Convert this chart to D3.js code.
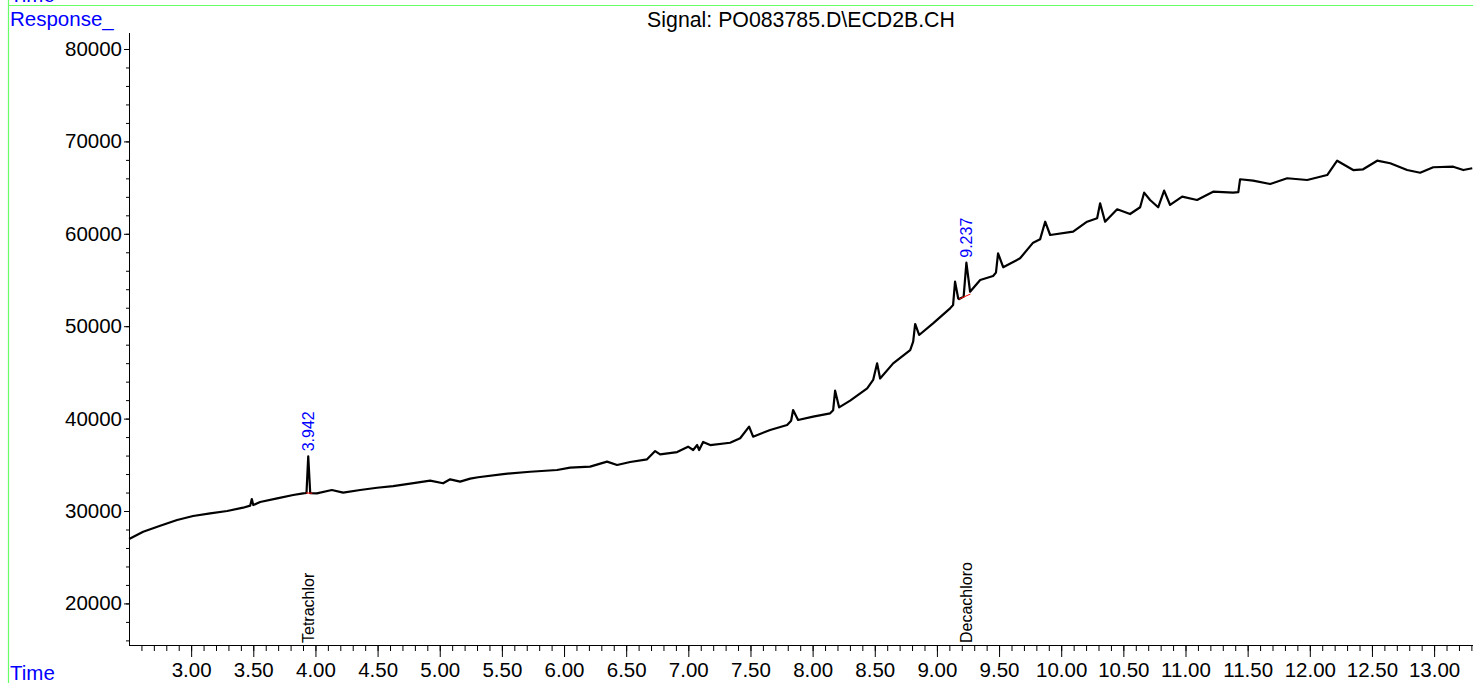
<!DOCTYPE html>
<html>
<head>
<meta charset="utf-8">
<script src="https://cdn.jsdelivr.net/npm/d3@7"></script>
<style>
  body { margin: 0; background: #fff; }
  svg { display: block; font-family: "Liberation Sans", Arial, sans-serif; }
</style>
</head>
<body>
<div id="chart"></div>
<script>
// Chromatogram readings (retention time in min, response)
var times = [
  2.501, 2.614, 2.751, 2.887, 3.016, 3.153, 3.290, 3.418, 3.475, 3.488,
  3.500, 3.555, 3.692, 3.821, 3.901, 3.928, 3.942, 3.958, 4.011, 4.132,
  4.223, 4.360, 4.496, 4.625, 4.762, 4.923, 5.027, 5.084, 5.164, 5.245,
  5.309, 5.510, 5.727, 5.944, 6.049, 6.210, 6.346, 6.427, 6.532, 6.668,
  6.733, 6.773, 6.910, 6.998, 7.039, 7.071, 7.087, 7.119, 7.176, 7.336,
  7.417, 7.489, 7.521, 7.658, 7.795, 7.827, 7.843, 7.883, 8.004, 8.141,
  8.165, 8.181, 8.213, 8.302, 8.439, 8.487, 8.519, 8.543, 8.648, 8.785,
  8.809, 8.825, 8.857, 8.969, 9.106, 9.130, 9.146, 9.171, 9.179, 9.215,
  9.237, 9.267, 9.348, 9.452, 9.475, 9.492, 9.533, 9.669, 9.774, 9.830,
  9.871, 9.911, 10.096, 10.208, 10.289, 10.313, 10.353, 10.450, 10.554, 10.635,
  10.667, 10.715, 10.780, 10.828, 10.876, 10.973, 11.093, 11.222, 11.383, 11.425,
  11.439, 11.544, 11.681, 11.818, 11.979, 12.140, 12.220, 12.349, 12.429, 12.542,
  12.647, 12.783, 12.888, 12.993, 13.154, 13.235, 13.307
];
var responses = [
  26970, 27760, 28410, 29030, 29460, 29750, 30000, 30360, 30580, 31300,
  30650, 30970, 31370, 31730, 31910, 31950, 35920, 31930, 31910, 32270,
  31990, 32270, 32520, 32700, 32960, 33280, 33000, 33430, 33180, 33500,
  33650, 34000, 34250, 34440, 34690, 34800, 35340, 34980, 35300, 35590,
  36490, 36130, 36380, 36960, 36600, 37140, 36600, 37470, 37140, 37390,
  37870, 39130, 38040, 38770, 39310, 39770, 40930, 39850, 40210, 40570,
  40900, 43020, 41220, 41940, 43280, 44180, 45980, 44340, 45980, 47420,
  48320, 50240, 49050, 50310, 51930, 52290, 54820, 53020, 52940, 53200,
  56870, 53730, 55000, 55430, 55800, 57890, 56380, 57350, 59040, 59400,
  61310, 59870, 60230, 61310, 61680, 63300, 61310, 62650, 62140, 62870,
  64450, 63660, 62870, 64670, 63120, 64020, 63660, 64560, 64450, 64500,
  65900, 65750, 65390, 66010, 65820, 66360, 67910, 66900, 66980, 67910,
  67630, 66900, 66610, 67200, 67260, 66900, 67090
];

// Integrated peaks and their baselines
var peakTimes = [3.942, 9.237];
var peakHeights = [35920, 56870];
var baselineStart = [[3.925, 31950], [9.179, 52940]];
var baselineEnd = [[3.975, 31930], [9.270, 53480]];

// Compound names shown along the time axis
var compoundNames = ["Tetrachlor", "Decachloro"];
var compoundTimes = [3.942, 9.237];

// Axis ticks
var xMajorTicks = d3.range(3, 13.01, 0.5);
var xMinorTicks = d3.range(26, 134).map(function (d) { return d / 10; });
var yMajorTicks = [20000, 30000, 40000, 50000, 60000, 70000, 80000];
var yMinorTicks = d3.range(16000, 80001, 2000);

var signalTitle = "Signal: PO083785.D\\ECD2B.CH";

var width = 1473;
var height = 683;

var svg = d3.select("#chart").append("svg")
  .attr("width", width)
  .attr("height", height);

var x = d3.scaleLinear().domain([2.5, 13.313]).range([129, 1473]);
var y = d3.scaleLinear().domain([15500, 81730]).range([645, 33]);

// frame lines
svg.append("line")
  .attr("x1", 8).attr("x2", width).attr("y1", 5.5).attr("y2", 5.5)
  .attr("stroke", "#66ff66").attr("stroke-width", 1.2);
svg.append("line")
  .attr("x1", 8.5).attr("x2", 8.5).attr("y1", 0).attr("y2", height)
  .attr("stroke", "#66ff66").attr("stroke-width", 1.2);

// blue labels
svg.append("text").attr("x", 10).attr("y", 2).attr("fill", "#0000ff")
  .style("font-size", "20.5px").text("Time");
svg.append("text").attr("x", 10).attr("y", 26).attr("fill", "#0000ff")
  .style("font-size", "20.5px").text("Response_");
svg.append("text").attr("x", 10).attr("y", 680).attr("fill", "#0000ff")
  .style("font-size", "20.5px").text("Time");

// title
svg.append("text")
  .attr("x", 801).attr("y", 27)
  .attr("text-anchor", "middle")
  .style("font-size", "21.3px")
  .text(signalTitle);

// y axis
var yAxis = d3.axisLeft(y)
  .tickValues(yMajorTicks)
  .tickSize(5)
  .tickPadding(2)
  .tickFormat(d3.format("d"));
var yAxisG = svg.append("g")
  .attr("transform", "translate(129,0)")
  .call(yAxis);
yAxisG.select(".domain").remove();
yAxisG.selectAll("text").style("font-size", "20.5px").attr("fill", "#000");

svg.append("g")
  .attr("transform", "translate(129,0)")
  .call(d3.axisLeft(y).tickValues(yMinorTicks).tickSize(3).tickFormat(""))
  .select(".domain").remove();

svg.append("line")
  .attr("x1", 129.5).attr("x2", 129.5).attr("y1", 33).attr("y2", 646)
  .attr("stroke", "#000");

// x axis
var xAxis = d3.axisBottom(x)
  .tickValues(xMajorTicks)
  .tickSize(12)
  .tickPadding(5)
  .tickFormat(d3.format(".2f"));
var xAxisG = svg.append("g")
  .attr("transform", "translate(0,645)")
  .call(xAxis);
xAxisG.select(".domain").remove();
xAxisG.selectAll("text").style("font-size", "20.5px").attr("fill", "#000");

svg.append("g")
  .attr("transform", "translate(0,645)")
  .call(d3.axisBottom(x).tickValues(xMinorTicks).tickSize(6).tickFormat(""))
  .select(".domain").remove();

svg.append("line")
  .attr("x1", 129).attr("x2", width).attr("y1", 645.5).attr("y2", 645.5)
  .attr("stroke", "#000");

// signal trace
var trace = times.map(function (t, i) { return [t, responses[i]]; });
var line = d3.line()
  .x(function (d) { return x(d[0]); })
  .y(function (d) { return y(d[1]); });

svg.append("path")
  .datum(trace)
  .attr("d", line)
  .attr("fill", "none")
  .attr("stroke", "#000")
  .attr("stroke-width", 2.2)
  .attr("stroke-linejoin", "round");

// red integration baselines
svg.selectAll(".baseline")
  .data(baselineStart)
  .enter().append("line")
  .attr("class", "baseline")
  .attr("x1", function (d) { return x(d[0]); })
  .attr("y1", function (d) { return y(d[1]); })
  .attr("x2", function (d, i) { return x(baselineEnd[i][0]); })
  .attr("y2", function (d, i) { return y(baselineEnd[i][1]); })
  .attr("stroke", "#ff0000")
  .attr("stroke-width", 1);

// retention time labels above peaks
svg.selectAll(".rt")
  .data(peakTimes)
  .enter().append("text")
  .attr("class", "rt")
  .attr("transform", function (d, i) {
    return "translate(" + x(d) + "," + (y(peakHeights[i]) - 5) + ") rotate(-90)";
  })
  .attr("dy", "0.35em")
  .attr("fill", "#0000ff")
  .style("font-size", "16px")
  .text(function (d) { return d.toFixed(3); });

// compound names
svg.selectAll(".compound")
  .data(compoundNames)
  .enter().append("text")
  .attr("class", "compound")
  .attr("transform", function (d, i) {
    return "translate(" + x(compoundTimes[i]) + ",643) rotate(-90)";
  })
  .attr("dy", "0.35em")
  .attr("fill", "#000")
  .style("font-size", "16px")
  .text(function (d) { return d; });
</script>
</body>
</html>
